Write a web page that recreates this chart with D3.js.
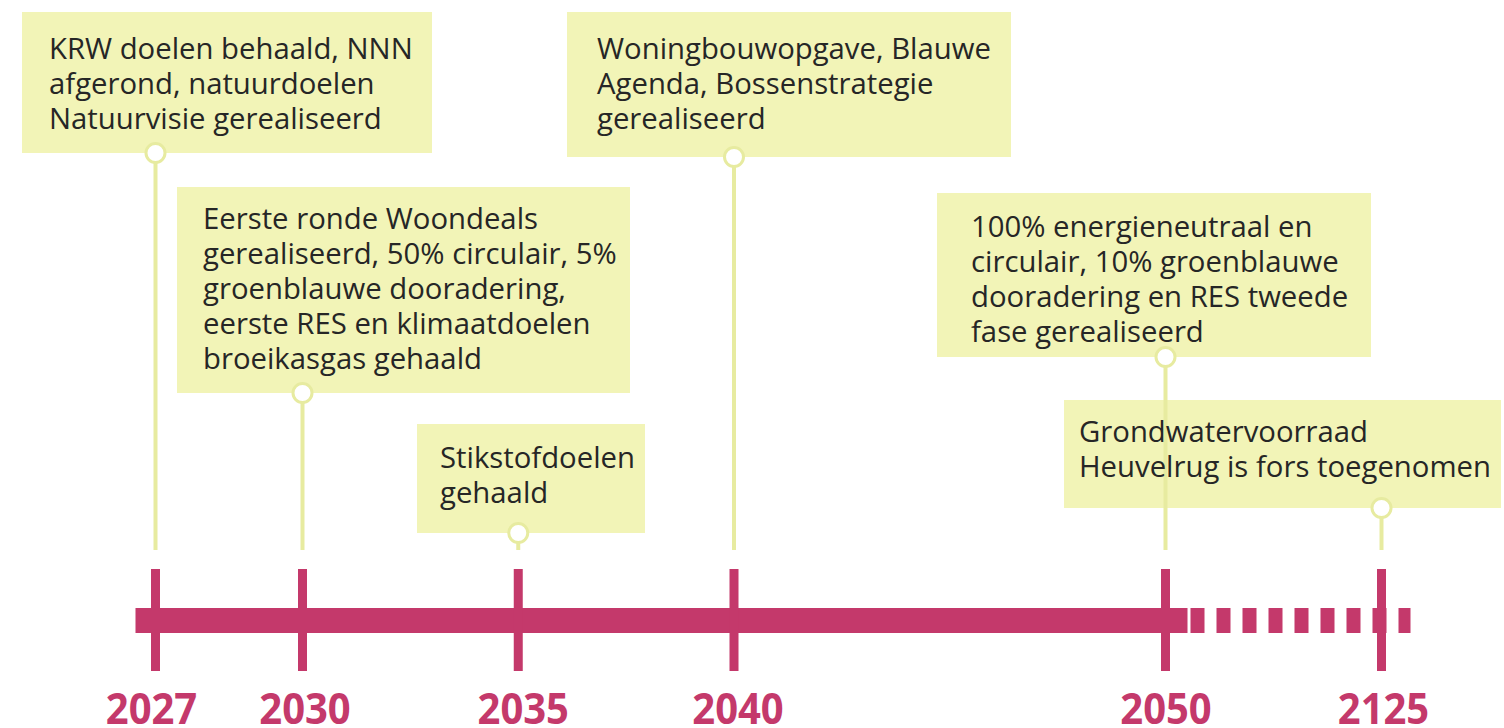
<!DOCTYPE html>
<html>
<head>
<meta charset="utf-8">
<script src="https://cdn.jsdelivr.net/npm/d3@7"></script>
<style>
  html, body { margin: 0; padding: 0; background: #fff; }
  svg { display: block; font-family: "Open Sans", sans-serif; }
</style>
</head>
<body>
<div id="chart"></div>
<script>
// milestone years on the timeline
const years = [2027, 2030, 2035, 2040, 2050, 2125];

// text per milestone, one entry per line
const milestoneLines = [
  ["KRW doelen behaald, NNN", "afgerond, natuurdoelen", "Natuurvisie gerealiseerd"],
  ["Eerste ronde Woondeals", "gerealiseerd, 50% circulair, 5%", "groenblauwe dooradering,", "eerste RES en klimaatdoelen", "broeikasgas gehaald"],
  ["Stikstofdoelen", "gehaald"],
  ["Woningbouwopgave, Blauwe", "Agenda, Bossenstrategie", "gerealiseerd"],
  ["100% energieneutraal en", "circulair, 10% groenblauwe", "dooradering en RES tweede", "fase gerealiseerd"],
  ["Grondwatervoorraad", "Heuvelrug is fors toegenomen"]
];

// layout of the label boxes (pixels)
const boxLayout = [
  { x0: 22, x1: 432, y0: 12, y1: 153, pad: 27, top: 47 },
  { x0: 177, x1: 630, y0: 187, y1: 393, pad: 26, top: 42 },
  { x0: 417, x1: 645, y0: 424, y1: 533, pad: 23, top: 44 },
  { x0: 567, x1: 1011, y0: 12, y1: 157, pad: 30, top: 47 },
  { x0: 937, x1: 1371, y0: 193, y1: 357, pad: 34, top: 44 },
  { x0: 1064, x1: 1501, y0: 400, y1: 508, pad: 15, top: 42 }
];
// small horizontal nudges of the year labels
const labelShift = [-4, 2.5, 5, 4, 0.5, 2];

const width = 1504, height = 728;
const magenta = "#c4396b";
const boxFill = "#f2f4b7";
const stemColor = "#e7eba0";

const svg = d3.select("#chart").append("svg")
  .attr("width", width)
  .attr("height", height);

// piecewise scale: the far future is compressed
const x = d3.scaleLinear()
  .domain([2027, 2030, 2050, 2125])
  .range([155.5, 302.5, 1165.5, 1381.5]);

const barY = 620.5, barH = 25;
const stemBottom = 550;

const milestones = years.map((year, i) => ({ year, lines: milestoneLines[i], box: boxLayout[i] }));

// boxes
svg.append("g")
  .selectAll("rect")
  .data(milestones)
  .join("rect")
  .attr("x", (d) => d.box.x0)
  .attr("y", (d) => d.box.y0)
  .attr("width", (d) => d.box.x1 - d.box.x0)
  .attr("height", (d) => d.box.y1 - d.box.y0)
  .attr("fill", boxFill);

// stems from box to timeline
svg.append("g")
  .selectAll("line")
  .data(milestones)
  .join("line")
  .attr("x1", (d) => x(d.year))
  .attr("x2", (d) => x(d.year))
  .attr("y1", (d) => d.box.y1)
  .attr("y2", stemBottom)
  .attr("stroke", stemColor)
  .attr("stroke-width", 4);

// box texts
const texts = svg.append("g")
  .selectAll("text")
  .data(milestones)
  .join("text")
  .attr("fill", "#262626")
  .attr("font-size", 29.3);

texts.selectAll("tspan")
  .data((d) => d.lines.map((line, j) => ({ line, j, box: d.box })))
  .join("tspan")
  .attr("x", (d) => d.box.x0 + d.box.pad)
  .attr("y", (d) => d.box.y0 + d.box.top + d.j * 35)
  .text((d) => d.line);

// circles on box edges
svg.append("g")
  .selectAll("circle")
  .data(milestones)
  .join("circle")
  .attr("cx", (d) => x(d.year))
  .attr("cy", (d) => d.box.y1)
  .attr("r", 9.5)
  .attr("fill", "#fff")
  .attr("stroke", stemColor)
  .attr("stroke-width", 3);

// solid part of the timeline
const barStart = x(2027) - 20;
const solidEnd = x(2050) + 22;
const dashEnd = x(2125) + 29;

svg.append("rect")
  .attr("x", barStart)
  .attr("y", barY - barH / 2)
  .attr("width", solidEnd - barStart)
  .attr("height", barH)
  .attr("fill", magenta);

// dashed future part
svg.append("line")
  .attr("x1", solidEnd + 3)
  .attr("x2", dashEnd)
  .attr("y1", barY)
  .attr("y2", barY)
  .attr("stroke", magenta)
  .attr("stroke-width", barH)
  .attr("stroke-dasharray", "14 12");

// ticks
svg.append("g")
  .selectAll("rect")
  .data(years)
  .join("rect")
  .attr("x", (d) => x(d) - 4.5)
  .attr("y", 569)
  .attr("width", 9)
  .attr("height", 102)
  .attr("fill", magenta);

// year labels
svg.append("g")
  .selectAll("text")
  .data(years)
  .join("text")
  .attr("text-anchor", "middle")
  .attr("transform", (d, i) => `translate(${x(d) + labelShift[i]},724) scale(1,1.08)`)
  .attr("fill", magenta)
  .attr("font-size", 40)
  .attr("font-weight", 700)
  .text((d) => d);
</script>
</body>
</html>
